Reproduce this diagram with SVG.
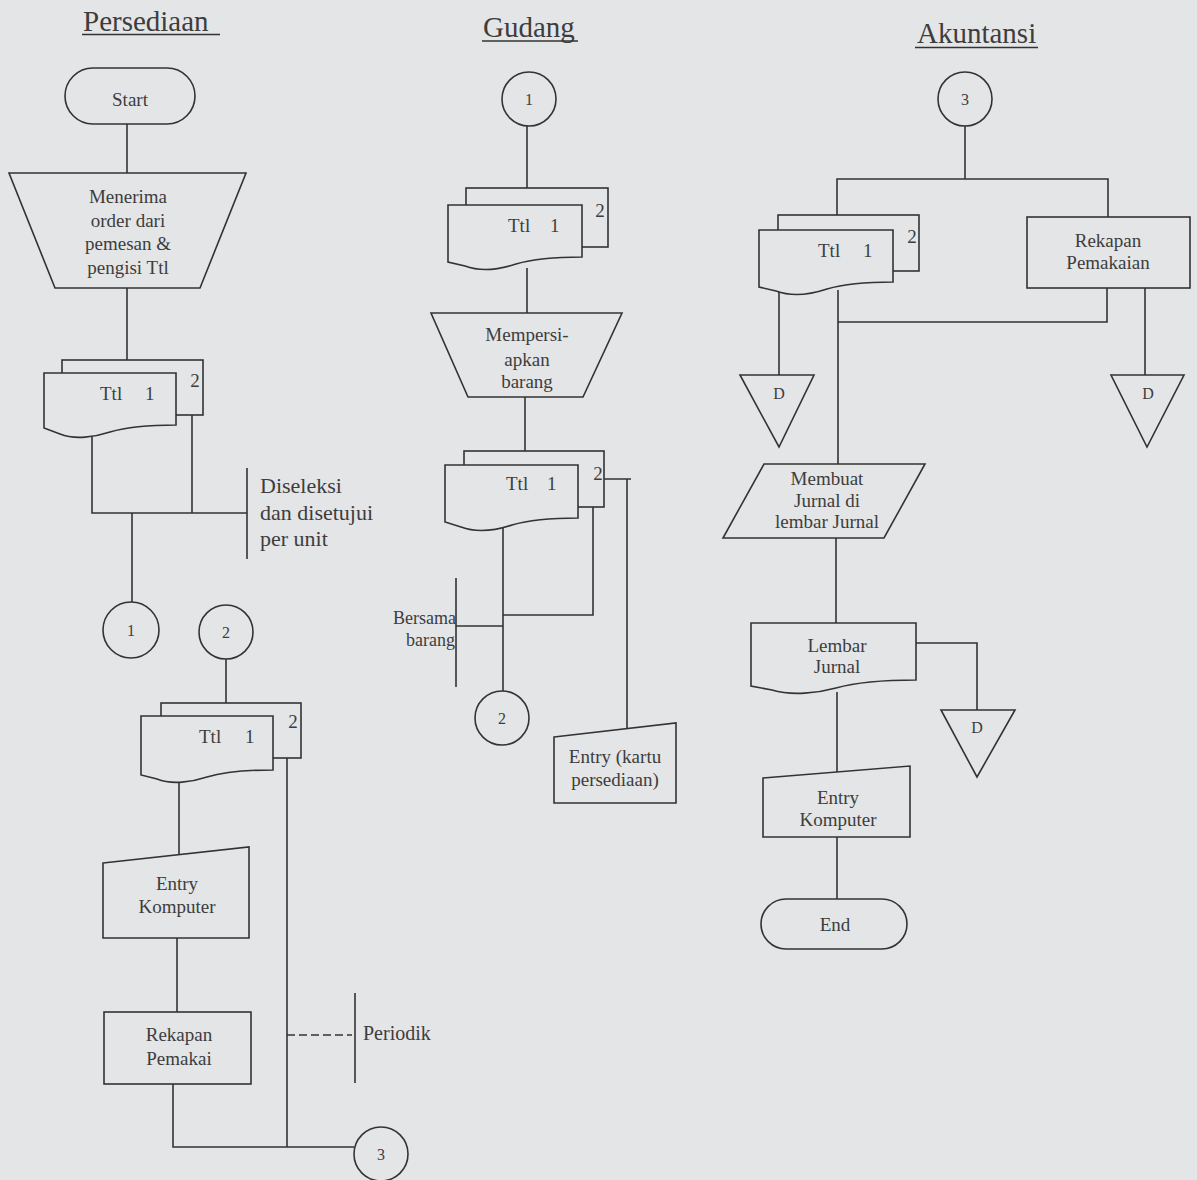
<svg xmlns="http://www.w3.org/2000/svg" width="1197" height="1180" viewBox="0 0 1197 1180">
<style>
.ln{stroke:#333;stroke-width:1.6;fill:none}
.sh{stroke:#333;stroke-width:1.6;fill:#e4e5e7}
.t{font-family:"Liberation Serif","Times New Roman",serif;font-size:19px;fill:#3d3d3d;text-anchor:middle}
.s{font-size:16px}
.l{text-anchor:start}
.h{font-family:"Liberation Serif","Times New Roman",serif;font-size:29px;fill:#3d3d3d}
</style>
<rect x="0" y="0" width="1197" height="1180" fill="#e4e5e7"/>

<g id="titles">
<text class="h" x="83" y="31">Persediaan</text>
<line class="ln" x1="82" y1="34.5" x2="220" y2="34.5"/>
<text class="h" x="483" y="37">Gudang</text>
<line class="ln" x1="482" y1="41" x2="578" y2="41"/>
<text class="h" x="917" y="43">Akuntansi</text>
<line class="ln" x1="915" y1="47.5" x2="1038" y2="47.5"/>
</g>

<g id="connectors">
<!-- Persediaan -->
<path class="ln" d="M127,124 V173"/>
<path class="ln" d="M127,288 V360"/>
<path class="ln" d="M92,434 V513 H247"/>
<path class="ln" d="M192,415 V513"/>
<path class="ln" d="M247,468 V559"/>
<path class="ln" d="M132,513 V602"/>
<path class="ln" d="M226,659 V703"/>
<path class="ln" d="M179,780 V855"/>
<path class="ln" d="M177,938 V1012"/>
<path class="ln" d="M173,1084 V1147 H354"/>
<path class="ln" d="M287,758 V1147"/>
<path class="ln" d="M287,1035 H352" stroke-dasharray="8,4"/>
<path class="ln" d="M355,993 V1083"/>
<!-- Gudang -->
<path class="ln" d="M527,126 V188"/>
<path class="ln" d="M527,268 V313"/>
<path class="ln" d="M525,397 V451"/>
<path class="ln" d="M604,479 H631 M627,479 V729"/>
<path class="ln" d="M593,507 V615 H503"/>
<path class="ln" d="M503,527 V691"/>
<path class="ln" d="M456,578 V687 M456,626 H503"/>
<!-- Akuntansi -->
<path class="ln" d="M965,126 V179 M837,215 V179 H1108 V217"/>
<path class="ln" d="M1107,288 V322 H838"/>
<path class="ln" d="M838,290 V464"/>
<path class="ln" d="M779,290 V375"/>
<path class="ln" d="M1145,288 V375"/>
<path class="ln" d="M836,538 V623"/>
<path class="ln" d="M916,643 H977 V710"/>
<path class="ln" d="M837,692 V772"/>
<path class="ln" d="M837,837 V899"/>
</g>

<g id="start">
<rect class="sh" x="65" y="68" width="130" height="56" rx="28"/>
<text class="t" x="130" y="106">Start</text>
</g>

<g id="menerima-order">
<polygon class="sh" points="9,173 246,173 200,288 55,288"/>
<text class="t" x="128" y="203">Menerima</text>
<text class="t" x="128" y="227">order dari</text>
<text class="t" x="128" y="250">pemesan &amp;</text>
<text class="t" x="128" y="274">pengisi Ttl</text>
</g>

<g id="ttl-persediaan-1">
<rect class="sh" x="62" y="360" width="141" height="55"/>
<text class="t" x="195" y="387">2</text>
<path class="sh" d="M44,373 H176 V425 C160,425 130,426 110,432 C95,437 75,440 60,434 L44,428 Z"/>
<text class="t l" x="100" y="400" word-spacing="18">Ttl 1</text>
</g>

<g id="note-diseleksi">
<text class="t l" x="260" y="493" style="font-size:22px">Diseleksi</text>
<text class="t l" x="260" y="520" style="font-size:22px">dan disetujui</text>
<text class="t l" x="260" y="546" style="font-size:22px">per unit</text>
</g>

<g id="conn-1-out">
<circle class="sh" cx="131" cy="630" r="28"/>
<text class="t s" x="131" y="636">1</text>
</g>

<g id="conn-2-in">
<circle class="sh" cx="226" cy="632" r="27"/>
<text class="t s" x="226" y="638">2</text>
</g>

<g id="ttl-persediaan-2">
<rect class="sh" x="161" y="703" width="140" height="55"/>
<text class="t" x="293" y="728">2</text>
<path class="sh" d="M141,716 H273 V770 C257,770 227,771 207,777 C192,782 172,785 157,779 L141,775 Z"/>
<text class="t l" x="199" y="743" word-spacing="19">Ttl 1</text>
</g>

<g id="entry-komputer-1">
<polygon class="sh" points="103,863 249,847 249,938 103,938"/>
<text class="t" x="177" y="890">Entry</text>
<text class="t" x="177" y="913">Komputer</text>
</g>

<g id="rekapan-pemakai">
<rect class="sh" x="104" y="1012" width="147" height="72"/>
<text class="t" x="179" y="1041">Rekapan</text>
<text class="t" x="179" y="1065">Pemakai</text>
</g>

<g id="note-periodik">
<text class="t l" x="363" y="1040" style="font-size:20px">Periodik</text>
</g>

<g id="conn-3-out">
<circle class="sh" cx="381" cy="1154" r="27"/>
<text class="t s" x="381" y="1160">3</text>
</g>

<g id="conn-1-in">
<circle class="sh" cx="529" cy="99" r="27"/>
<text class="t s" x="529" y="105">1</text>
</g>

<g id="ttl-gudang-1">
<rect class="sh" x="466" y="188" width="142" height="59"/>
<text class="t" x="600" y="217">2</text>
<path class="sh" d="M448,205 H582 V257 C566,257 536,258 516,264 C501,269 481,272 465,266 L448,262 Z"/>
<text class="t l" x="508" y="232" word-spacing="15">Ttl 1</text>
</g>

<g id="mempersiapkan">
<polygon class="sh" points="431,313 622,313 583,397 468,397"/>
<text class="t" x="527" y="341">Mempersi-</text>
<text class="t" x="527" y="366">apkan</text>
<text class="t" x="527" y="388">barang</text>
</g>

<g id="ttl-gudang-2">
<rect class="sh" x="464" y="451" width="140" height="56"/>
<text class="t" x="598" y="480">2</text>
<path class="sh" d="M445,465 H578 V518 C562,518 532,519 512,525 C497,530 477,533 461,527 L445,522 Z"/>
<text class="t l" x="506" y="490" word-spacing="14">Ttl 1</text>
</g>

<g id="note-bersama">
<text class="t" x="456" y="624" style="text-anchor:end;font-size:18px">Bersama</text>
<text class="t" x="455" y="646" style="text-anchor:end;font-size:18px">barang</text>
</g>

<g id="conn-2-out">
<circle class="sh" cx="502" cy="718" r="27"/>
<text class="t s" x="502" y="724">2</text>
</g>

<g id="entry-kartu">
<polygon class="sh" points="554,737 676,723 676,803 554,803"/>
<text class="t" x="615" y="763">Entry (kartu</text>
<text class="t" x="615" y="786">persediaan)</text>
</g>

<g id="conn-3-in">
<circle class="sh" cx="965" cy="99" r="27"/>
<text class="t s" x="965" y="105">3</text>
</g>

<g id="ttl-akuntansi">
<rect class="sh" x="778" y="215" width="141" height="56"/>
<text class="t" x="912" y="243">2</text>
<path class="sh" d="M759,230 H893 V282 C877,282 847,283 827,289 C812,294 792,297 776,291 L759,287 Z"/>
<text class="t l" x="818" y="257" word-spacing="18">Ttl 1</text>
</g>

<g id="rekapan-pemakaian">
<rect class="sh" x="1027" y="217" width="163" height="71"/>
<text class="t" x="1108" y="247">Rekapan</text>
<text class="t" x="1108" y="269">Pemakaian</text>
</g>

<g id="file-d-1">
<polygon class="sh" points="740,375 814,375 779,447"/>
<text class="t s" x="779" y="399">D</text>
</g>

<g id="file-d-2">
<polygon class="sh" points="1111,375 1184,375 1147,447"/>
<text class="t s" x="1148" y="399">D</text>
</g>

<g id="membuat-jurnal">
<polygon class="sh" points="764,464 925,464 884,538 723,538"/>
<text class="t" x="827" y="485">Membuat</text>
<text class="t" x="827" y="507">Jurnal di</text>
<text class="t" x="827" y="528">lembar Jurnal</text>
</g>

<g id="lembar-jurnal">
<path class="sh" d="M751,623 H916 V680 C896,680 861,681 836,688 C818,693 792,696 772,690 L751,686 Z"/>
<text class="t" x="837" y="652">Lembar</text>
<text class="t" x="837" y="673">Jurnal</text>
</g>

<g id="file-d-3">
<polygon class="sh" points="941,710 1015,710 977,777"/>
<text class="t s" x="977" y="733">D</text>
</g>

<g id="entry-komputer-2">
<polygon class="sh" points="763,778 910,766 910,837 763,837"/>
<text class="t" x="838" y="804">Entry</text>
<text class="t" x="838" y="826">Komputer</text>
</g>

<g id="end">
<rect class="sh" x="761" y="899" width="146" height="50" rx="25"/>
<text class="t" x="835" y="931">End</text>
</g>
</svg>
